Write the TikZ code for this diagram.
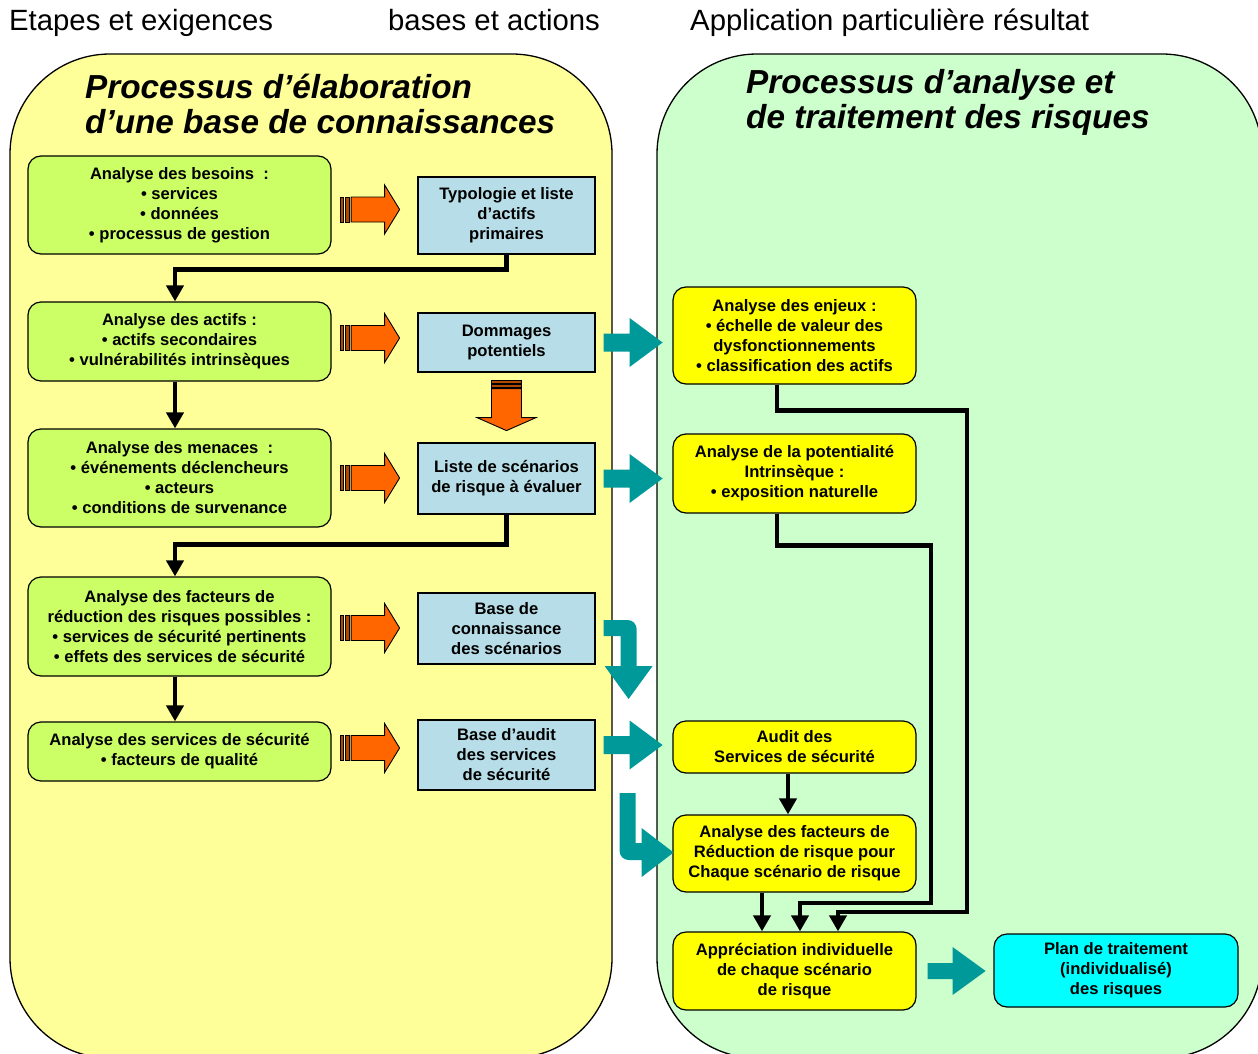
\documentclass[tikz,border=0pt]{standalone}
\usepackage{fontspec}
\setmainfont{Liberation Sans}
\usetikzlibrary{arrows.meta,calc}
\definecolor{panelY}{HTML}{FFFF99}
\definecolor{panelG}{HTML}{CCFFCC}
\definecolor{greenbox}{HTML}{CCFF66}
\definecolor{bluebox}{HTML}{B7DEE8}
\definecolor{yellowbox}{HTML}{FFFF00}
\definecolor{cyanbox}{HTML}{00FFFF}
\definecolor{tealc}{HTML}{009999}
\definecolor{orangec}{HTML}{FF6600}
\newcommand\bxf{\bfseries\fontsize{16.6}{20}\selectfont}
\begin{document}
\begin{tikzpicture}[x=1pt,y=-1pt,
  gbox/.style={draw=black, line width=1.2pt, fill=greenbox, rounded corners=13pt, align=center, inner sep=0pt, font=\bxf, minimum width=303pt},
  bbox/.style={draw=black, line width=1.2pt, fill=bluebox, align=center, inner sep=0pt, font=\bxf, minimum width=177pt},
  ybox/.style={draw=black, line width=1.2pt, fill=yellowbox, rounded corners=13pt, align=center, inner sep=0pt, font=\bxf, minimum width=243pt},
  cbox/.style={draw=black, line width=1.2pt, fill=cyanbox, rounded corners=13pt, align=center, inner sep=0pt, font=\bxf, minimum width=244pt},
  conn/.style={line width=4.5pt, -{Triangle[width=17pt,length=16pt]}},
  toplabel/.style={anchor=base west, inner sep=0pt, font=\fontsize{29.3}{32}\selectfont},
  titlelabel/.style={anchor=west, inner sep=0pt, align=left, font=\bfseries\itshape\fontsize{33.3}{35}\selectfont},
  tealright/.pic={\fill[tealc] (0,-9) -- (26,-9) -- (26,-24.5) -- (59,0) -- (26,24.5) -- (26,9) -- (0,9) -- cycle;},
  tealrightb/.pic={\fill[tealc] (0,-8) -- (25,-8) -- (25,-24) -- (58,0) -- (25,24) -- (25,8) -- (0,8) -- cycle;},
  orangeright/.pic={
    \filldraw[fill=orangec!70!black, draw=black, line width=0.9pt] (0,-12.5) rectangle (2.5,12.5);
    \filldraw[fill=orangec!70!black, draw=black, line width=0.9pt] (4.5,-12.5) rectangle (8.5,12.5);
    \filldraw[fill=orangec, draw=black, line width=0.9pt, line join=miter] (10.5,-12.5) -- (44,-12.5) -- (44,-24.5) -- (59,0) -- (44,24.5) -- (44,12.5) -- (10.5,12.5) -- cycle;},
  orangedown/.pic={
    \filldraw[fill=orangec!70!black, draw=black, line width=0.9pt] (-15,0) rectangle (15,2.5);
    \filldraw[fill=orangec!70!black, draw=black, line width=0.9pt] (-15,4) rectangle (15,6.5);
    \filldraw[fill=orangec, draw=black, line width=0.9pt, line join=miter] (-15,8) -- (-15,37) -- (-29.5,37) -- (0,50) -- (29.5,37) -- (15,37) -- (15,8) -- cycle;}
]
\useasboundingbox (0,0) rectangle (1258,1054);
\begin{scope}
  \clip (0,0) rectangle (1258,1054);
  \draw[fill=panelY, line width=1.3pt, rounded corners=100pt] (10,54) rectangle (612,1058);
  \draw[fill=panelG, line width=1.3pt, rounded corners=100pt] (657,54) rectangle (1262,1058);
\end{scope}

% top labels
\node[toplabel] (t1) at (9,31) {Etapes et exigences};
\node[toplabel] (t2) at (388,31) {bases et actions};
\node[toplabel] (t3) at (690,31) {Application particulière résultat};

% titles
\node[titlelabel] (tl) at (85,104) {Processus d’élaboration\\d’une base de connaissances};
\node[titlelabel] (tr) at (746,102) {Processus d’analyse et\\de traitement des risques};

% left column
\node[gbox, minimum height=98pt] (b1) at (179.5,205) {Analyse des besoins\ \ :\\• services\\• données\\• processus de gestion};
\node[gbox, minimum height=79pt] (b2) at (179.5,341.5) {Analyse des actifs :\\• actifs secondaires\\• vulnérabilités intrinsèques};
\node[gbox, minimum height=98pt] (b3) at (179.5,478) {Analyse des menaces\ \ :\\• événements déclencheurs\\• acteurs\\• conditions de survenance};
\node[gbox, minimum height=99pt] (b4) at (179.5,626.5) {Analyse des facteurs de\\réduction des risques possibles :\\• services de sécurité pertinents\\• effets des services de sécurité};
\node[gbox, minimum height=59pt] (b5) at (179.5,751.5) {Analyse des services de sécurité\\• facteurs de qualité};

% middle column
\node[bbox, minimum height=77pt] (A) at (506.5,215.5) {Typologie et liste\\d’actifs\\primaires};
\node[bbox, minimum height=59pt] (B) at (506.5,342.5) {Dommages\\potentiels};
\node[bbox, minimum height=71pt] (C) at (506.5,478.5) {Liste de scénarios\\de risque à évaluer};
\node[bbox, minimum height=71pt] (D) at (506.5,628.5) {Base de\\connaissance\\des scénarios};
\node[bbox, minimum height=70pt] (E) at (506.5,755) {Base d’audit\\des services\\de sécurité};

% right column
\node[ybox, minimum height=97pt] (R1) at (794.5,335.5) {Analyse des enjeux :\\• échelle de valeur des\\dysfonctionnements\\• classification des actifs};
\node[ybox, minimum height=79pt] (R2) at (794.5,473.5) {Analyse de la potentialité\\Intrinsèque :\\• exposition naturelle};
\node[ybox, minimum height=52pt] (R3) at (794.5,747) {Audit des\\Services de sécurité};
\node[ybox, minimum height=77pt] (R4) at (794.5,853.5) {Analyse des facteurs de\\Réduction de risque pour\\Chaque scénario de risque};
\node[ybox, minimum height=78pt] (R5) at (794.5,971) {Appréciation individuelle\\de chaque scénario\\de risque};
\node[cbox, minimum height=73pt] (P) at (1116,970.5) {Plan de traitement\\(individualisé)\\des risques};

% black connectors, left
\draw[conn] (A.south) -- ++(0,15) -| ($(b2.north)+(-4.5,0)$);
\draw[conn] ($(b2.south)+(-4.5,0)$) -- ($(b3.north)+(-4.5,0)$);
\draw[conn] (C.south) -- ++(0,30) -| ($(b4.north)+(-4.5,0)$);
\draw[conn] ($(b4.south)+(-4.5,0)$) -- ($(b5.north)+(-4.5,0)$);

% black connectors, right
\coordinate (w1) at (967,912);
\coordinate (w2) at (931,903);
\draw[conn] ($(R1.south)+(-17.5,0)$) -- ++(0,26) -| (w1) -| ($(R5.north)+(43.5,0)$);
\draw[conn] ($(R2.south)+(-17.5,0)$) -- ++(0,32) -| (w2) -| ($(R5.north)+(5.5,0)$);
\draw[conn] ($(R3.south)+(-6.5,0)$) -- ($(R4.north)+(-6.5,0)$);
\draw[conn] ($(R4.south)+(-32.5,0)$) -- ($(R5.north)+(-32.5,0)$);

% orange block arrows
\pic at ($(b1.east)+(9,4.5)$) {orangeright};
\pic at ($(b2.east)+(9,-3.5)$) {orangeright};
\pic at ($(b3.east)+(9,0)$) {orangeright};
\pic at ($(b4.east)+(9,1.5)$) {orangeright};
\pic at ($(b5.east)+(9,-3.5)$) {orangeright};
\pic at ($(B.south)+(0,8)$) {orangedown};

% teal block arrows
\pic at ($(B.east)+(8,0)$) {tealright};
\pic at ($(C.east)+(8,0)$) {tealright};
\pic at ($(E.east)+(8,-10)$) {tealright};
\pic at ($(R5.east)+(11,0)$) {tealrightb};
\begin{scope}[shift={(D.east)}]
  \fill[tealc] (8,7.5) -- (8,-8.5) -- (32,-8.5) .. controls (37,-8.5) and (41,-4.5) .. (41,0.5) -- (41,37.5) -- (57,37.5) -- (33,70.5) -- (9,37.5) -- (25,37.5) -- (25,7.5) -- cycle;
\end{scope}
\begin{scope}[shift={(E.east)}]
  \fill[tealc] (24,38) -- (40,38) -- (40,88) -- (46,88) -- (46,73) -- (78,97.5) -- (46,122) -- (46,105) -- (33,105) .. controls (28,105) and (24,101) .. (24,96) -- cycle;
\end{scope}
\end{tikzpicture}
\end{document}
